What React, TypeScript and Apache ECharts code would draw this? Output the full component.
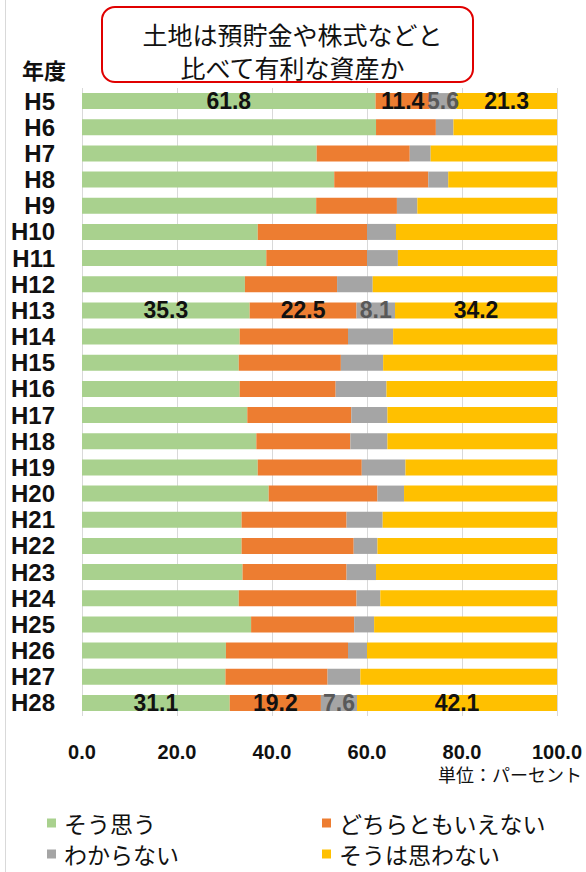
import React, { useEffect, useRef } from "react";
import * as echarts from "echarts";

const categories = ["H5","H6","H7","H8","H9","H10","H11","H12","H13","H14","H15","H16","H17","H18","H19","H20","H21","H22","H23","H24","H25","H26","H27","H28"];
const agree = [61.8, 61.9, 49.4, 53.1, 49.3, 37.0, 38.8, 34.3, 35.3, 33.2, 33.0, 33.2, 34.8, 36.7, 37.0, 39.3, 33.6, 33.6, 33.8, 33.0, 35.6, 30.3, 30.2, 31.1];
const neutral = [11.4, 12.6, 19.6, 19.8, 17.0, 23.0, 21.2, 19.4, 22.5, 22.8, 21.5, 20.2, 21.9, 19.8, 21.9, 22.9, 22.1, 23.6, 21.9, 24.8, 21.7, 25.7, 21.5, 19.2];
const unknown = [5.6, 3.7, 4.4, 4.2, 4.3, 6.1, 6.5, 7.5, 8.1, 9.5, 8.9, 10.7, 7.6, 7.8, 9.2, 5.6, 7.6, 5.0, 6.2, 5.0, 4.2, 4.0, 6.9, 7.6];
const disagree = [21.3, 21.8, 26.6, 22.9, 29.4, 33.9, 33.5, 38.8, 34.2, 34.5, 36.6, 35.9, 35.7, 35.7, 31.9, 32.2, 36.7, 37.8, 38.1, 37.2, 38.5, 40.0, 41.4, 42.1];
const labeledYears = ["H5", "H13", "H28"];
const seriesNames = ["そう思う", "どちらともいえない", "わからない", "そうは思わない"];
const xTicks = [0, 20, 40, 60, 80, 100];
const titleText = "土地は預貯金や株式などと\n比べて有利な資産か";

const LATIN = "'Liberation Sans', Arial, sans-serif";
const CJK = "'Noto Sans CJK JP', 'Noto Sans', sans-serif";

export default function App() {
  const ref = useRef<HTMLDivElement>(null);
  useEffect(() => {
    if (!ref.current) return;
    const chart = echarts.init(ref.current, undefined, { renderer: "svg" });
    const colors = ["#a9d18e", "#ed7d31", "#a5a5a5", "#ffc000"];
    const labelColors = ["#111", "#111", "#595959", "#111"];
    const values = [agree, neutral, unknown, disagree];
    const series = values.map((arr, si) => ({
      name: seriesNames[si],
      type: "bar",
      stack: "total",
      barWidth: 16,
      itemStyle: { color: colors[si] },
      label: {
        show: false,
        position: "inside",
        fontFamily: LATIN,
        fontWeight: "bold",
        fontSize: 23,
        color: labelColors[si],
        formatter: (p: any) => Number(p.value).toFixed(1),
      },
      data: arr.map((v, i) => ({
        value: v,
        label: { show: labeledYears.includes(categories[i]) },
      })),
    }));
    const legendText = { fontFamily: CJK, fontSize: 23, lineHeight: 26, color: "#111", padding: [0, 0, 0, 3] };
    chart.setOption({
      animation: false,
      color: colors,
      title: {
        text: titleText,
        left: 287.5,
        top: 12,
        textAlign: "center",
        textStyle: {
          fontFamily: CJK,
          fontSize: 25,
          fontWeight: "normal",
          lineHeight: 33,
          color: "#111",
        },
      },
      grid: { left: 82, right: 29, top: 88, bottom: 156, containLabel: false },
      xAxis: {
        type: "value",
        min: xTicks[0],
        max: xTicks[xTicks.length - 1],
        interval: xTicks[1] - xTicks[0],
        axisLine: { show: false },
        axisTick: { show: false },
        splitLine: { show: true, lineStyle: { color: "#d9d9d9", width: 1 } },
        axisLabel: {
          margin: 26,
          fontFamily: LATIN,
          fontWeight: "bold",
          fontSize: 20,
          lineHeight: 20,
          color: "#111",
          formatter: (v: number) => v.toFixed(1),
        },
      },
      yAxis: {
        type: "category",
        data: categories,
        inverse: true,
        axisLine: { show: false },
        axisTick: { show: false },
        axisLabel: {
          interval: 0,
          margin: 27,
          fontFamily: LATIN,
          fontWeight: "bold",
          fontSize: 24,
          color: "#111",
        },
      },
      legend: [
        {
          data: [seriesNames[0], seriesNames[2]],
          orient: "vertical",
          left: 47,
          top: 810,
          padding: 0,
          itemWidth: 9,
          itemHeight: 9,
          itemGap: 5,
          icon: "rect",
          textStyle: legendText,
        },
        {
          data: [seriesNames[1], seriesNames[3]],
          orient: "vertical",
          left: 322,
          top: 810,
          padding: 0,
          itemWidth: 9,
          itemHeight: 9,
          itemGap: 5,
          icon: "rect",
          textStyle: legendText,
        },
      ],
      graphic: [
        {
          type: "line",
          shape: { x1: 5.5, y1: 0, x2: 5.5, y2: 872 },
          style: { stroke: "#d9d9d9", lineWidth: 1 },
          silent: true,
        },
        {
          type: "rect",
          shape: { x: 102, y: 7, width: 371, height: 75, r: 13 },
          style: { fill: "#fff", stroke: "#e00000", lineWidth: 2 },
          z: -1,
          silent: true,
        },
        {
          type: "text",
          x: 44,
          y: 69,
          style: {
            text: "年度",
            font: `bold 22px ${CJK}`,
            fill: "#111",
            textAlign: "center",
            textVerticalAlign: "middle",
          },
        },
        {
          type: "text",
          x: 582,
          y: 774,
          style: {
            text: "単位：パーセント",
            font: `18px ${CJK}`,
            fill: "#111",
            textAlign: "right",
            textVerticalAlign: "middle",
          },
        },
      ],
      series,
    });
    return () => chart.dispose();
  }, []);
  return (
    <div
      ref={ref}
      style={{ position: "fixed", left: 0, top: 0, width: 586, height: 872, background: "#fff" }}
    />
  );
}
